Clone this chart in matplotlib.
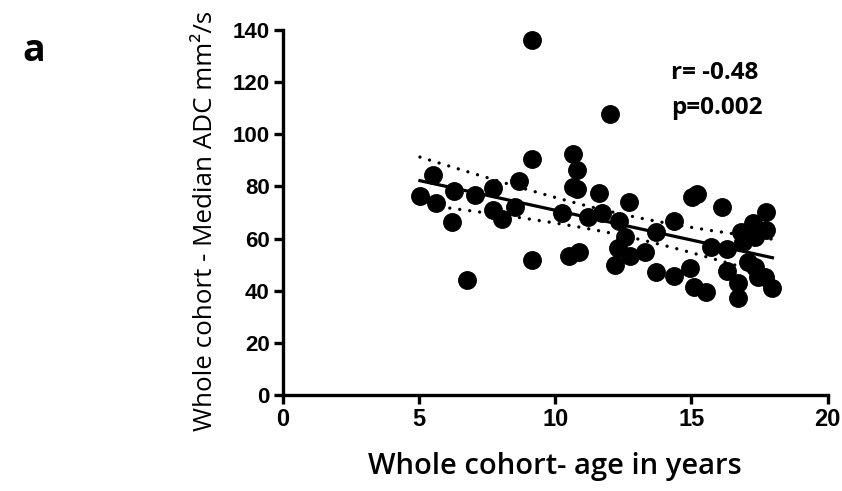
import numpy as np
import matplotlib.pyplot as plt

# age (years) and median ADC
age = [5.03, 5.52, 5.61, 6.19, 6.28, 7.05, 6.74, 7.70, 7.70, 8.03,
       8.51, 8.67, 9.13, 9.13, 9.13, 10.65, 10.78, 10.65, 10.80, 11.60,
       12.70, 10.26, 11.20, 11.70, 12.33, 12.55, 12.30, 12.73, 12.21, 13.28,
       10.51, 10.87, 12.00, 15.01, 15.19, 16.12, 17.72, 17.26, 17.75, 16.83,
       17.32, 16.89, 14.35, 13.68, 15.71, 16.32, 13.69, 14.36, 14.94, 15.08,
       15.52, 16.30, 16.69, 16.69, 17.08, 17.32, 17.44, 17.69, 17.97]
adc = [76.3, 84.4, 73.5, 66.5, 78.4, 76.7, 44.1, 79.5, 71.0, 67.5,
       72.0, 82.1, 90.4, 136.0, 51.8, 92.4, 86.3, 79.9, 78.9, 77.6,
       74.1, 69.7, 68.2, 69.7, 66.9, 60.7, 56.3, 53.3, 49.9, 55.0,
       53.3, 55.0, 107.8, 75.9, 77.1, 72.2, 70.3, 65.9, 63.3, 62.6,
       60.7, 58.8, 66.9, 62.4, 56.9, 56.0, 47.3, 45.6, 48.6, 41.5,
       39.6, 47.7, 43.1, 37.1, 51.1, 49.2, 45.4, 45.4, 40.9]

x_ticks = [0, 5, 10, 15, 20]
y_ticks = [0, 20, 40, 60, 80, 100, 120, 140]

x = np.array(age)
y = np.array(adc)

# linear fit and 95% confidence band of the mean
n = len(x)
slope, intercept = np.polyfit(x, y, 1)
xf = np.linspace(x.min(), x.max(), 100)
yf = slope * xf + intercept
resid = y - (slope * x + intercept)
s = np.sqrt(np.sum(resid ** 2) / (n - 2))
se = s * np.sqrt(1 / n + (xf - x.mean()) ** 2 / np.sum((x - x.mean()) ** 2))
t = 2.0
lo = yf - t * se
hi = yf + t * se

fig = plt.figure(figsize=(8.42, 4.91), dpi=100)
ax = fig.add_axes([0.336, 0.1955, 0.647, 0.7435])

ax.scatter(x, y, s=185, color="black", zorder=3, clip_on=False, linewidths=0)
ax.plot(xf, yf, color="black", lw=2.3, zorder=2)
for band in (lo, hi):
    ax.plot(xf, band, color="black", lw=2.4, linestyle=(0, (0.01, 3.0)),
            dash_capstyle="round", zorder=2)

ax.set_xlim(0, 20)
ax.set_ylim(0, 140)
ax.set_xticks(x_ticks)
ax.set_yticks(y_ticks)

for side in ("top", "right"):
    ax.spines[side].set_visible(False)
for side in ("left", "bottom"):
    ax.spines[side].set_linewidth(2.4)

ax.tick_params(axis="both", direction="out", length=6.5, width=2.4, pad=3)
for lab in ax.get_yticklabels():
    lab.set_fontfamily("Liberation Sans")
    lab.set_fontweight("bold")
    lab.set_fontsize(16)
for lab in ax.get_xticklabels():
    lab.set_fontfamily("Liberation Sans")
    lab.set_fontweight("bold")
    lab.set_fontsize(17)

ax.set_xlabel("Whole cohort- age in years", family="Open Sans",
              fontweight="semibold", fontsize=21, labelpad=15)
ax.set_ylabel("Whole cohort - Median ADC mm²/s", family="Open Sans",
              fontweight="medium", fontsize=18.7)
ax.yaxis.set_label_coords(-0.12, 0.478)

fig.text(0.797, 0.851, "r= -0.48", family="Open Sans",
         fontweight="bold", fontsize=17.5, va="center", ha="left")
fig.text(0.797, 0.780, "p=0.002", family="Open Sans",
         fontweight="bold", fontsize=17.5, va="center", ha="left")

fig.text(0.04, 0.896, "a", family="Open Sans", fontweight="bold", fontsize=27,
         va="center", ha="center")

fig.savefig("out.png", dpi=100)
